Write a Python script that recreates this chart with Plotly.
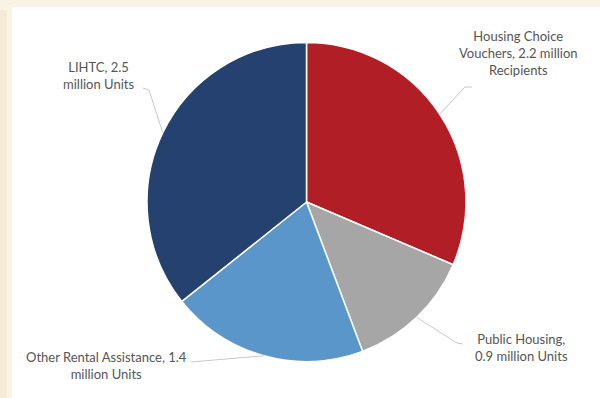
import math
import plotly.graph_objects as go

# Assisted rental housing, millions of units / recipients
programs = ["Housing Choice Vouchers", "Public Housing", "Other Rental Assistance", "LIHTC"]
values = [2.2, 0.9, 1.4, 2.5]
units = ["Recipients", "Units", "Units", "Units"]
colors = ["#B21E25", "#A6A6A6", "#5B96CB", "#24416F"]

label_text = [
    "Housing Choice<br>Vouchers, 2.2 million<br>Recipients",
    "Public Housing,<br>0.9 million Units",
    "Other Rental Assistance, 1.4<br>million Units",
    "LIHTC, 2.5<br>million Units",
]

W, H = 600, 398

# pie placement in pixels
cx, cy, r = 306.5, 202.0, 159.5

# label block centres and the point where each leader line leaves its label
label_pos = [(518, 53), (521, 347), (106, 365), (98, 75)]
leader_start = [(472, 87), (463, 344), (191, 362), (143, 88)]
leader_elbow = [(465, 87), (457, 343), (191, 362), (149, 90)]


def paper(px, py):
    return px / W, 1 - py / H


fig = go.Figure(
    go.Pie(
        labels=programs,
        values=values,
        marker=dict(colors=colors, line=dict(color="#FFFFFF", width=1.5)),
        sort=False,
        direction="clockwise",
        rotation=0,
        textinfo="none",
        hoverinfo="label+value",
        showlegend=False,
        domain=dict(
            x=[(cx - r) / W, (cx + r) / W],
            y=[1 - (cy + r) / H, 1 - (cy - r) / H],
        ),
    )
)

shapes = [
    # beige frame around the white panel
    dict(type="rect", xref="paper", yref="paper", x0=0, x1=1, y0=1 - 7 / H, y1=1,
         fillcolor="#FAF2E4", line=dict(width=0), layer="below"),
    dict(type="rect", xref="paper", yref="paper", x0=0, x1=12 / W, y0=0, y1=1,
         fillcolor="#FAF2E4", line=dict(width=0), layer="below"),
    dict(type="rect", xref="paper", yref="paper", x0=0, x1=7 / W, y0=0, y1=1 - 10 / H,
         fillcolor="#F3EAD7", line=dict(width=0), layer="below"),
]

# leader lines run to the middle of each slice's arc
total = sum(values)
cum = 0.0
annotations = []
for i, v in enumerate(values):
    mid = (cum + v / 2) / total * 2 * math.pi
    cum += v
    ex = cx + r * math.sin(mid)
    ey = cy - r * math.cos(mid)
    pts = [paper(*leader_start[i]), paper(*leader_elbow[i]), paper(ex, ey)]
    path = "M {} {} L {} {} L {} {}".format(*[c for p in pts for c in p])
    shapes.append(dict(type="path", xref="paper", yref="paper", path=path,
                       line=dict(color="#C8C8C8", width=1)))
    lx, ly = paper(*label_pos[i])
    annotations.append(dict(
        x=lx, y=ly, xref="paper", yref="paper", text=label_text[i],
        showarrow=False, align="center", xanchor="center", yanchor="middle",
        font=dict(family="Lato", size=13, color="#555555"),
    ))

fig.update_layout(
    width=W,
    height=H,
    margin=dict(l=0, r=0, t=0, b=0),
    paper_bgcolor="#FFFFFF",
    plot_bgcolor="#FFFFFF",
    shapes=shapes,
    annotations=annotations,
)

fig.write_html("out.html")
